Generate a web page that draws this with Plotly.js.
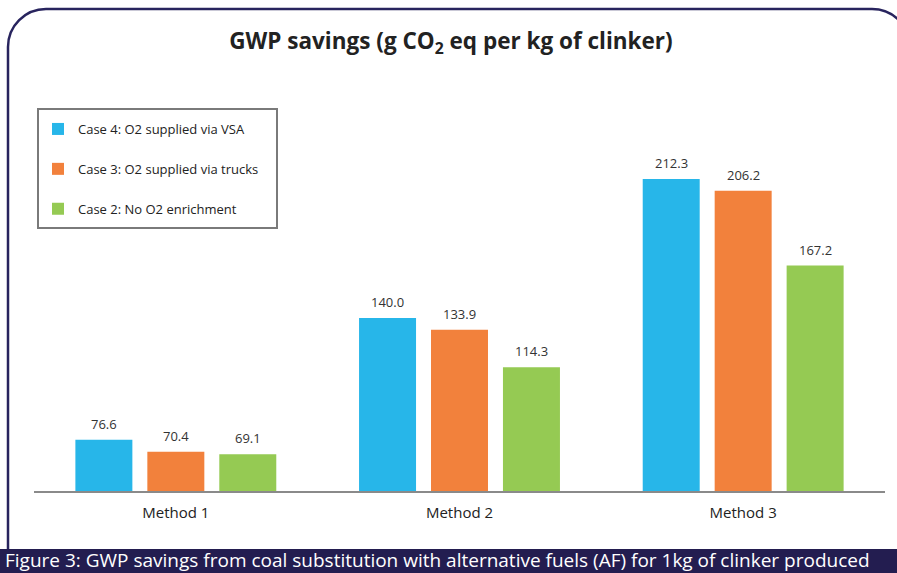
<!DOCTYPE html>
<html>
<head>
<meta charset="utf-8">
<script src="https://cdn.plot.ly/plotly-3.0.1.min.js"></script>
<style>html,body{margin:0;padding:0;background:#fff;}#chart{width:897px;height:573px;}</style>
</head>
<body>
<div id="chart"></div>
<script>
const categories = ["Method 1", "Method 2", "Method 3"];
const seriesNames = ["Case 4: O2 supplied via VSA", "Case 3: O2 supplied via trucks", "Case 2: No O2 enrichment"];
const case4 = [76.6, 140.0, 212.3];
const case3 = [70.4, 133.9, 206.2];
const case2 = [69.1, 114.3, 167.2];
const titleText = "GWP savings (g CO<sub>2</sub> eq per kg of clinker)";
const captionText = "Figure 3: GWP savings from coal substitution with alternative fuels (AF) for 1kg of clinker produced";

const colors = ["#27b6e9", "#f2813c", "#95ca53"];
const seriesValues = [case4, case3, case2];
const FONT = "Open Sans, sans-serif";

// layout geometry (pixels)
const W = 897, H = 573;
const M = {l: 34, r: 12, t: 68, b: 82};
const pw = W - M.l - M.r, ph = H - M.t - M.b;
const px = x => (x - M.l) / pw;
const py = y => (H - M.b - y) / ph;

const traces = seriesValues.map((vals, i) => ({
  type: "bar",
  name: seriesNames[i],
  x: categories,
  y: vals,
  marker: {color: colors[i]},
  legendgroup: "g" + i,
  hoverinfo: "none"
}));

const offsets = [-72, 0, 72];
const annotations = [];
seriesValues.forEach((vals, i) => {
  vals.forEach((v, j) => {
    annotations.push({
      x: categories[j], y: v, xref: "x", yref: "y",
      text: v.toFixed(1), showarrow: false,
      xshift: offsets[i], yshift: 5, yanchor: "bottom",
      font: {family: FONT, size: 13, color: "#333"}
    });
  });
});
annotations.push({
  xref: "paper", yref: "paper", x: px(3), y: py(560),
  xanchor: "left", yanchor: "middle", showarrow: false,
  text: captionText,
  font: {family: FONT, size: 19, color: "#ffffff"}
});

// rounded frame path
const k = 0.5523, r = 38;
const L = 8, T = 9, R = 910, B = 549;
function P(x, y) { return px(x) + "," + py(y); }
const framePath =
  "M" + P(L, B + 30) + " L" + P(L, T + r) +
  " C" + P(L, T + r - k * r) + " " + P(L + r - k * r, T) + " " + P(L + r, T) +
  " L" + P(R - r, T) +
  " C" + P(R - r + k * r, T) + " " + P(R, T + r - k * r) + " " + P(R, T + r) +
  " L" + P(R, B + 30);

const shapes = [
  {type: "path", xref: "paper", yref: "paper", path: framePath,
   line: {color: "#28245e", width: 2.5}, layer: "below"},
  {type: "rect", xref: "paper", yref: "paper",
   x0: px(-5), x1: px(905), y0: py(580), y1: py(549),
   fillcolor: "#231d50", line: {width: 0}, layer: "above"},
  {type: "rect", xref: "paper", yref: "paper",
   x0: px(38), x1: px(277), y0: py(228), y1: py(109),
   fillcolor: "rgba(0,0,0,0)", line: {color: "#7a7a7a", width: 2}}
];

const layout = {
  width: W, height: H,
  margin: M,
  paper_bgcolor: "#ffffff", plot_bgcolor: "#ffffff",
  title: {text: titleText, x: px(451), xref: "paper", xanchor: "center",
          y: 1 - 41 / H, yanchor: "middle",
          font: {family: FONT, size: 22.5, color: "#222", weight: "bold"}},
  barmode: "group",
  bargap: 0.239,
  bargroupgap: 0.208,
  showlegend: true,
  legend: {x: px(38), y: py(114), xanchor: "left", yanchor: "top",
           bgcolor: "rgba(0,0,0,0)", borderwidth: 0,
           tracegroupgap: 20, traceorder: "grouped",
           font: {family: FONT, size: 13, color: "#222"}},
  xaxis: {type: "category", showline: true, linecolor: "#8a8a8a", linewidth: 2,
          ticks: "", showgrid: false, zeroline: false, ticklabelstandoff: 7,
          tickfont: {family: FONT, size: 15, color: "#222"}},
  yaxis: {range: [50, 50 + ph / 1.923], showticklabels: false, showgrid: false,
          zeroline: false, showline: false, ticks: ""},
  annotations: annotations,
  shapes: shapes,
  hovermode: false
};

Plotly.newPlot("chart", traces, layout, {displayModeBar: false, staticPlot: true});
</script>
</body>
</html>
